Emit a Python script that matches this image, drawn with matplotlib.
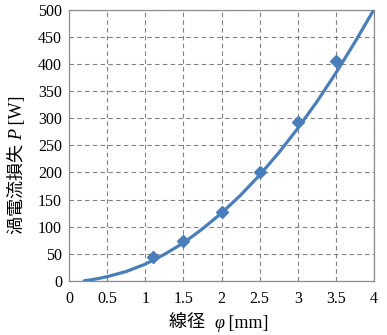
import matplotlib
matplotlib.use("Agg")
import matplotlib.pyplot as plt

fam = ['Liberation Serif', 'Noto Sans CJK JP']
plt.rcParams['font.family'] = fam

# measured points (diamonds)
meas_x = [1.1, 1.5, 2.0, 2.5, 3.0, 3.5]
meas_y = [45, 74, 127, 200, 293, 405]

# calculated curve
curve_x = [0.2, 0.3, 0.4, 0.5, 0.75, 1.0, 1.25, 1.5, 1.75, 2.0, 2.25, 2.5, 2.75, 3.0, 3.25, 3.5, 3.75, 4.0]
curve_y = [0.5, 2.5, 5, 8, 17.5, 31, 49, 70, 96, 125, 158, 195, 236, 281, 330, 383, 440, 500]

xticks = [0, 0.5, 1, 1.5, 2, 2.5, 3, 3.5, 4]
xticklabels = ['0', '0.5', '1', '1.5', '2', '2.5', '3', '3.5', '4']
yticks = list(range(0, 501, 50))

xlabel_parts = [('線径  ', 'normal'), ('φ', 'italic'), (' [mm]', 'normal')]
ylabel_parts = [('渦電流損失 ', 'normal'), ('P', 'italic'), (' [W]', 'normal')]

blue = '#4A7EBB'
W, H = 387, 335

fig = plt.figure(figsize=(W / 100, H / 100), dpi=100)
ax = fig.add_axes([69 / W, 1 - 281 / H, 305 / W, 271.5 / H])

ax.plot(curve_x, curve_y, color=blue, lw=2.3, solid_capstyle='round', zorder=3)
ax.plot(meas_x, meas_y, linestyle='none', marker='D', markersize=6, color=blue, zorder=4)

ax.set_xlim(0, 4)
ax.set_ylim(0, 500)
ax.set_xticks(xticks)
ax.set_xticklabels(xticklabels)
ax.set_yticks(yticks)
ax.grid(True, color='#808080', linestyle=(0, (4, 3)), linewidth=0.8)
ax.set_axisbelow(True)
for s in ax.spines.values():
    s.set_color('#8C8C8C')
    s.set_linewidth(0.9)
ax.tick_params(length=0, labelsize=11.5)
ax.tick_params(axis='x', pad=7)
ax.tick_params(axis='y', pad=5)

renderer = fig.canvas.get_renderer()


def place_parts(parts, center_px, base_px, size, vertical=False):
    texts = []
    lengths = []
    for s, style in parts:
        t = fig.text(0, 0, s, family=fam, style=style, fontsize=size,
                     rotation=90 if vertical else 0, rotation_mode='anchor',
                     ha='left', va='baseline')
        bb = t.get_window_extent(renderer)
        texts.append(t)
        lengths.append(bb.height if vertical else bb.width)
    total = sum(lengths)
    if vertical:
        p = center_px + total / 2
        for t, L in zip(texts, lengths):
            t.set_position((base_px / W, 1 - p / H))
            p -= L
    else:
        p = center_px - total / 2
        for t, L in zip(texts, lengths):
            t.set_position((p / W, 1 - base_px / H))
            p += L


place_parts(xlabel_parts, 219, 328, 13)
place_parts(ylabel_parts, 165, 22, 13, vertical=True)

fig.savefig('out.png', dpi=100)
